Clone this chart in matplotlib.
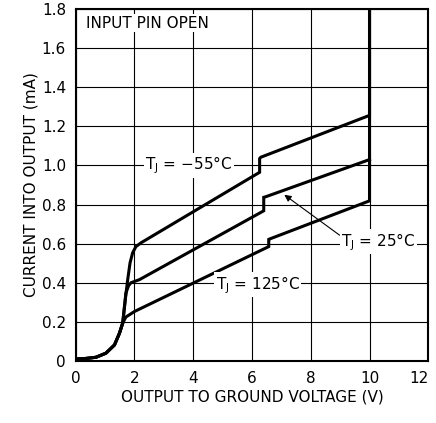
import numpy as np
import matplotlib
matplotlib.use("Agg")
import matplotlib.pyplot as plt
from matplotlib import font_manager

# ── data ──────────────────────────────────────────────────────────────
v_m55 = [0, 0.35, 0.69, 1.03, 1.32, 1.49, 1.60, 1.70, 1.77, 1.85, 1.94, 2.05, 2.23,
         6.26, 6.26, 6.30, 10.0, 10.0]
i_m55 = [0.01, 0.013, 0.019, 0.04, 0.082, 0.142, 0.194, 0.33, 0.416, 0.502, 0.554,
         0.585, 0.605, 0.965, 1.035, 1.042, 1.256, 1.8]

v_25 = [0, 0.35, 0.69, 1.03, 1.32, 1.49, 1.60, 1.71, 1.80, 1.88, 2.17,
        6.40, 6.40, 6.47, 10.0]
i_25 = [0.01, 0.013, 0.019, 0.04, 0.082, 0.142, 0.194, 0.348, 0.385, 0.40, 0.416,
        0.768, 0.837, 0.84, 1.03]

v_125 = [0, 0.35, 0.69, 1.03, 1.32, 1.49, 1.60, 1.71, 2.0,
         6.57, 6.57, 6.62, 10.0, 10.0]
i_125 = [0.01, 0.013, 0.019, 0.04, 0.082, 0.142, 0.194, 0.225, 0.253,
         0.585, 0.622, 0.625, 0.819, 1.8]

x_ticks = [0, 2, 4, 6, 8, 10, 12]
y_ticks = [0, 0.2, 0.4, 0.6, 0.8, 1.0, 1.2, 1.4, 1.6, 1.8]
y_tick_labels = ["0", "0.2", "0.4", "0.6", "0.8", "1.0", "1.2", "1.4", "1.6", "1.8"]

# ── font ──────────────────────────────────────────────────────────────
names = {f.name for f in font_manager.fontManager.ttflist}
fam = "Liberation Sans Narrow" if "Liberation Sans Narrow" in names else "DejaVu Sans"
plt.rcParams["font.family"] = [fam, "DejaVu Sans"]
plt.rcParams["mathtext.fontset"] = "custom"
plt.rcParams["mathtext.rm"] = fam
plt.rcParams["mathtext.it"] = fam
FS = 11

fig = plt.figure(figsize=(4.36, 4.23), dpi=100)
ax = fig.add_axes([0.1736, 0.1466, 0.8087, 0.8321])

for v, i in [(v_m55, i_m55), (v_25, i_25), (v_125, i_125)]:
    ax.plot(v, i, color="black", lw=2.2, solid_joinstyle="miter", zorder=3)

ax.set_xlim(0, 12)
ax.set_ylim(0, 1.8)
ax.set_xticks(x_ticks)
ax.set_yticks(y_ticks)
ax.set_yticklabels(y_tick_labels)
ax.tick_params(length=0, labelsize=FS, pad=7)
ax.grid(True, color="black", lw=0.8)
ax.set_axisbelow(True)
for s in ax.spines.values():
    s.set_linewidth(1.5)

# last x label sits at the figure edge; keep it inside
ax.get_xticklabels()[-1].set_horizontalalignment("right")
ax.get_xticklabels()[-1].set_x(12.25)

ax.set_xlabel("OUTPUT TO GROUND VOLTAGE (V)", fontsize=FS, labelpad=3)
ax.set_ylabel("CURRENT INTO OUTPUT (mA)", fontsize=FS, labelpad=2)

box = dict(boxstyle="square,pad=0.1", fc="white", ec="none")
ax.text(0.35, 1.728, "INPUT PIN OPEN", fontsize=FS, va="center", ha="left",
        bbox=box, zorder=4)
ax.text(3.85, 1.0, r"$\mathregular{T_J}$ = −55°C", fontsize=FS, va="center",
        ha="center", bbox=box, zorder=4)
ax.text(6.2, 0.39, r"$\mathregular{T_J}$ = 125°C", fontsize=FS, va="center",
        ha="center", bbox=box, zorder=4)
ax.annotate(r"$\mathregular{T_J}$ = 25°C", xy=(7.1, 0.85), xytext=(10.3, 0.61),
            fontsize=FS, va="center", ha="center", bbox=box, zorder=4,
            arrowprops=dict(arrowstyle="-|>", color="black", lw=0.8,
                            mutation_scale=10, shrinkA=0, shrinkB=0,
                            relpos=(0.0, 0.75)))

fig.savefig("out.png", dpi=100)
